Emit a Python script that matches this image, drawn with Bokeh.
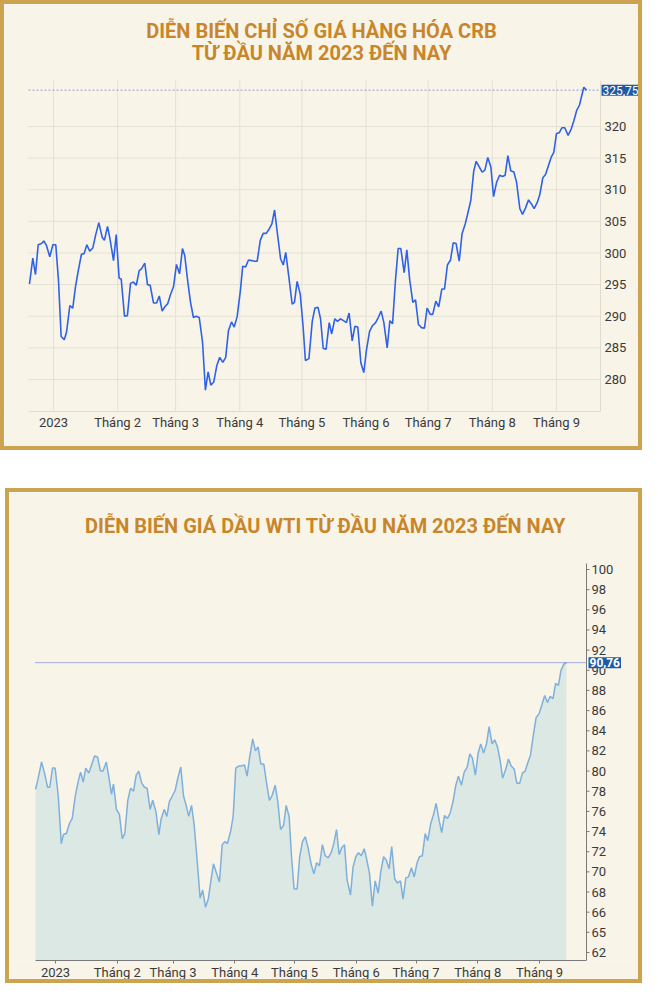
from bokeh.plotting import figure
from bokeh.models import FixedTicker, Spacer
from bokeh.layouts import column, row
from bokeh.core.properties import value
from bokeh.embed import file_html
from bokeh.resources import INLINE

# ---------------- data ----------------
# x = days since 2023-01-01
crb_day = [-11.6,-10.0,-8.7,-7.4,-5.8,-4.7,-3.4,-1.8,-0.3,1.1,
           2.4,3.7,5.2,6.3,7.9,9.3,10.6,11.9,13.5,14.8,
           16.1,17.5,19.0,20.4,21.9,23.5,24.6,26.1,27.2,29.0,
           30.3,31.7,32.7,34.3,35.7,37.2,38.6,40.0,41.4,42.5,
           44.1,45.4,46.7,48.3,49.8,51.1,52.5,53.8,55.2,56.5,
           58.0,59.4,60.9,62.3,63.4,64.9,66.2,67.6,68.9,70.4,
           72.0,73.4,74.7,76.0,77.4,78.9,80.3,81.8,83.2,84.5,
           86.0,87.3,88.7,90.3,91.4,92.8,94.2,95.8,97.2,98.4,
           99.9,101.3,102.8,104.2,105.5,106.8,108.2,109.7,111.0,112.2,
           113.7,115.3,116.4,117.7,119.2,120.6,121.7,123.4,125.0,126.3,
           127.8,129.0,130.3,131.7,133.2,134.4,135.9,137.2,138.6,140.1,
           141.5,142.8,144.3,145.6,147.0,148.5,149.9,151.2,152.7,154.1,
           155.6,156.9,158.3,159.6,161.2,162.5,163.8,165.2,166.5,167.8,
           169.4,170.7,172.1,173.6,174.9,176.3,177.8,179.2,180.5,182.0,
           183.2,184.7,186.1,187.6,188.9,190.3,191.8,193.1,194.5,196.0,
           197.4,198.9,200.1,201.6,203.0,204.2,205.7,207.1,208.4,209.8,
           211.3,212.6,214.0,215.5,216.9,218.2,219.5,220.9,222.4,223.7,
           225.3,226.6,228.0,229.5,230.8,232.2,233.7,234.9,236.4,237.7,
           239.1,240.4,241.7,243.0,244.3,245.6,247.0,248.6,250.1,251.4,
           252.7,254.1,256.2,257.5]
crb_value = [295.1,299.2,296.6,301.3,301.5,301.9,301.2,299.4,301.3,301.3,
             295.7,286.8,286.3,287.5,291.7,291.3,294.6,297.1,299.8,299.9,
             301.3,300.3,300.8,302.9,304.8,302.5,302.0,304.2,302.4,298.8,
             302.9,296.0,295.9,290.0,290.1,295.2,295.4,294.9,297.2,297.5,
             298.4,295.0,294.9,292.1,292.1,293.2,290.8,291.5,292.0,293.4,
             294.7,298.2,296.7,300.7,299.6,295.4,292.2,289.8,290.0,289.8,
             285.9,278.3,281.2,279.1,279.6,282.2,283.5,282.7,283.5,287.7,
             289.1,288.3,289.9,294.1,297.9,297.8,298.9,298.8,298.7,298.7,
             302.0,303.1,303.1,303.8,304.6,306.8,303.0,299.1,298.1,300.1,
             296.2,291.9,292.2,295.5,293.5,288.3,283.0,283.3,289.2,291.3,
             291.4,289.6,284.9,284.8,289.0,287.2,289.6,289.2,289.6,289.3,
             289.0,290.5,286.1,288.4,288.3,282.6,281.1,284.7,287.6,288.5,
             289.0,289.8,290.8,289.0,285.0,289.3,288.8,295.7,300.7,300.7,
             296.9,300.5,295.7,292.2,292.6,288.7,288.2,288.1,291.3,290.3,
             290.3,292.4,291.5,294.3,294.3,298.1,298.9,301.6,301.5,298.7,
             303.1,304.6,306.2,308.3,312.9,314.5,313.6,312.8,313.1,315.1,
             313.6,308.9,311.1,312.3,312.1,312.3,315.4,313.0,312.8,311.2,
             307.0,306.1,307.1,308.4,307.8,307.0,308.0,309.2,311.9,312.4,
             313.8,315.1,315.9,318.9,319.0,319.8,319.8,318.6,319.6,320.9,
             322.5,323.4,326.2,325.75]

wti_day = [-10.0,-8.9,-7.0,-5.5,-4.0,-2.9,-1.5,-0.2,1.4,2.9,
           4.0,5.5,7.0,8.4,9.9,11.2,12.6,13.9,15.2,16.7,
           18.1,19.6,21.1,22.6,23.9,25.5,26.8,28.1,29.1,30.6,
           32.1,33.5,34.8,36.3,37.7,39.2,40.5,41.8,43.3,44.7,
           46.0,47.5,48.8,50.4,51.9,53.1,54.6,55.9,57.2,58.6,
           60.1,61.4,62.9,64.3,65.6,66.9,68.3,69.6,71.1,72.6,
           73.9,75.3,76.7,78.0,79.3,80.8,82.3,83.7,85.0,86.3,
           87.9,89.2,90.5,91.9,93.2,94.9,96.2,97.5,99.0,100.4,
           101.7,103.1,104.6,105.9,107.4,108.8,110.3,111.6,113.0,114.5,
           115.8,117.3,118.5,119.8,121.3,122.6,124.0,125.4,126.8,128.3,
           129.7,131.1,132.5,134.0,135.4,136.9,138.4,139.7,141.1,142.4,
           143.7,145.1,146.4,148.1,149.4,150.8,152.1,153.5,155.0,156.3,
           157.6,159.1,160.5,162.0,163.3,164.7,166.0,167.5,168.8,170.3,
           171.7,173.2,174.5,175.9,177.2,178.7,180.1,181.4,182.7,184.2,
           185.6,186.9,188.4,189.8,191.1,192.6,193.9,195.3,196.8,198.1,
           199.6,201.0,202.3,203.8,205.2,206.7,208.0,209.3,210.8,212.2,
           213.5,214.9,216.4,217.7,219.2,220.5,221.9,223.2,224.5,226.1,
           227.4,228.8,230.3,231.6,233.1,234.4,235.8,237.1,238.5,240.0,
           241.3,242.8,244.1,245.6,247.0,248.3,249.8,251.1,252.5,253.8,
           255.2,256.5]
wti_value = [78.2,79.1,80.9,79.8,78.4,78.4,80.3,80.3,77.5,72.8,
             73.7,73.8,74.8,75.3,77.5,78.8,79.9,78.9,80.3,79.8,
             80.6,81.5,81.4,80.0,80.0,80.9,79.4,77.7,78.7,76.2,
             75.7,73.3,73.8,77.1,78.3,78.0,79.6,80.0,78.8,78.4,
             78.3,76.2,77.1,76.0,73.7,75.3,76.2,75.5,77.0,77.5,
             78.1,79.3,80.4,77.5,76.6,75.5,76.6,74.7,71.2,67.4,
             68.2,66.5,67.3,69.1,70.8,69.9,69.0,72.7,73.0,72.8,
             74.0,75.5,80.3,80.5,80.5,80.6,79.5,81.4,83.2,82.0,
             82.4,80.7,80.7,78.9,77.1,77.6,78.6,77.0,74.2,74.6,
             76.6,75.5,71.5,68.3,68.3,71.5,73.0,73.5,72.4,70.8,
             69.8,70.9,70.6,72.7,71.6,71.4,71.9,72.8,74.2,71.7,
             72.4,72.7,69.2,67.7,70.5,71.5,71.9,71.6,72.3,71.2,
             69.9,66.6,69.1,67.9,70.0,71.5,71.2,70.3,72.5,69.3,
             68.9,69.1,67.3,69.4,69.5,70.4,69.5,70.8,71.5,71.6,
             73.8,73.1,74.8,75.7,76.8,75.1,73.9,75.6,75.3,75.8,
             77.0,78.6,79.5,78.6,79.9,80.4,81.7,81.3,79.6,81.8,
             82.7,81.8,82.7,84.4,82.7,83.1,82.4,81.1,79.3,80.2,
             81.2,80.5,80.2,78.8,78.8,79.8,80.0,80.8,81.6,83.7,
             85.3,85.7,86.5,87.5,86.8,87.4,87.2,88.7,88.5,90.0,
             90.6,90.76]

month_ticks = [0, 31, 59, 90, 120, 151, 181, 212, 243]
month_labels = ["2023", "Tháng 2", "Tháng 3", "Tháng 4", "Tháng 5",
                "Tháng 6", "Tháng 7", "Tháng 8", "Tháng 9"]
crb_ticks = [280, 285, 290, 295, 300, 305, 310, 315, 320]
crb_tick_labels = ["280", "285", "290", "295", "300", "305", "310", "315", "320"]
wti_ticks = [62, 64, 66, 68, 70, 72, 74, 76, 78, 80, 82, 84, 86, 88, 90,
             92, 94, 96, 98, 100]
wti_tick_labels = ["62", "65", "66", "68", "70", "72", "74", "76", "78", "80",
                   "82", "84", "86", "88", "90", "92", "94", "96", "98", "100"]
crb_last = 325.75
wti_last = 90.76
crb_title = ["DIỄN BIẾN CHỈ SỐ GIÁ HÀNG HÓA CRB", "TỪ ĐẦU NĂM 2023 ĐẾN NAY"]
wti_title = "DIỄN BIẾN GIÁ DẦU WTI TỪ ĐẦU NĂM 2023 ĐẾN NAY"

# ---------------- style / layout ----------------
BG = "#f8f4e8"
GOLD = "#cca34e"
TITLE_C = "#c8862b"
TXT = "#3a3a3a"
FONT = "Roboto"
BOX = "#1c5ca6"
GRID = "#e6e1d5"


def lin(p0, v0, p1, v1):
    k = (v1 - v0) / (p1 - p0)
    return lambda p: v0 + (p - p0) * k


def fmt(v):
    return f"{v:.2f}".replace(".", ",")


# ---------------- CRB chart ----------------
# pixel calibration of the page (layout only)
tx = lin(53, 0, 556, 243)
ty = lin(126, 320, 379, 280)
cx0, cx1 = tx(4), tx(638)
cy0, cy1 = ty(411), ty(4)
c_left, c_axis = tx(28), tx(600)
c_top = ty(80)

p1 = figure(width=642, height=450, x_range=(cx0, cx1), y_range=(cy0, cy1),
            output_backend="svg", toolbar_location=None, y_axis_location=None,
            min_border_left=0, min_border_right=8, min_border_top=0,
            min_border_bottom=43)
p1.styles = {"border": f"4px solid {GOLD}"}
p1.background_fill_color = BG
p1.border_fill_color = BG
p1.outline_line_color = None
p1.grid.visible = False

p1.xaxis.ticker = FixedTicker(ticks=month_ticks)
p1.xaxis.major_label_overrides = dict(zip(month_ticks, month_labels))
p1.xaxis.bounds = (c_left, c_axis)
p1.xaxis.axis_line_color = "#e0dbcf"
p1.xaxis.major_tick_line_color = None
p1.xaxis.major_tick_in = 0
p1.xaxis.major_tick_out = 0
p1.xaxis.minor_tick_line_color = None
p1.xaxis.major_label_text_font = FONT
p1.xaxis.major_label_text_color = TXT
p1.xaxis.major_label_text_font_size = "13px"
p1.xaxis.major_label_standoff = 3

nm, nt = len(month_ticks), len(crb_ticks)
p1.segment(x0=month_ticks, y0=[cy0] * nm, x1=month_ticks, y1=[c_top] * nm,
           line_color=GRID, line_width=1)
p1.segment(x0=[c_left] * nt, y0=crb_ticks, x1=[c_axis] * nt, y1=crb_ticks,
           line_color=GRID, line_width=1)
p1.segment(x0=[c_axis], y0=[cy0], x1=[c_axis], y1=[c_top],
           line_color="#e0dbcf", line_width=1)
p1.segment(x0=[c_left], y0=[crb_last], x1=[c_axis], y1=[crb_last],
           line_color="#8e9fe0", line_dash="2 2", line_width=1)
p1.line(crb_day, crb_value, line_color="#2f62e6", line_width=1.6)
p1.text(x=[c_axis] * nt, y=crb_ticks, text=crb_tick_labels, x_offset=4,
        text_align="left", text_baseline="middle", text_font=value(FONT),
        text_font_size="13px", text_color=TXT)
p1.text(x=[c_axis], y=[crb_last], text=[fmt(crb_last)], x_offset=1,
        text_align="left", text_baseline="middle", text_font=value(FONT),
        text_font_size="12px", text_color="white",
        background_fill_color=BOX, padding=1)
p1.text(x=[tx(321)] * 2, y=[ty(30), ty(52)], text=crb_title,
        text_align="center", text_baseline="middle", text_font=value(FONT),
        text_font_style="bold", text_font_size="20px", text_color=TITLE_C)

# ---------------- WTI chart ----------------
bx = lin(55, 0, 539, 243)
by = lin(569, 100, 952, 62)
wx0, wx1 = bx(9), bx(638)
wy0, wy1 = by(960), by(492)
w_left, w_axis = bx(35), bx(586)
w_top = by(563)

p2 = figure(width=637, height=495, x_range=(wx0, wx1), y_range=(wy0, wy1),
            output_backend="svg", toolbar_location=None, y_axis_location=None,
            min_border_left=0, min_border_right=8, min_border_top=0,
            min_border_bottom=27)
p2.styles = {"border": f"4px solid {GOLD}"}
p2.background_fill_color = BG
p2.border_fill_color = BG
p2.outline_line_color = None
p2.grid.visible = False

p2.xaxis.ticker = FixedTicker(ticks=month_ticks)
p2.xaxis.major_label_overrides = dict(zip(month_ticks, month_labels))
p2.xaxis.bounds = (w_left, w_axis)
p2.xaxis.axis_line_color = "#7a7a7a"
p2.xaxis.major_tick_line_color = "#7a7a7a"
p2.xaxis.major_tick_in = 0
p2.xaxis.major_tick_out = 3
p2.xaxis.minor_tick_line_color = None
p2.xaxis.major_label_text_font = FONT
p2.xaxis.major_label_text_color = TXT
p2.xaxis.major_label_text_font_size = "13px"
p2.xaxis.major_label_standoff = 1

nw = len(wti_ticks)
p2.varea(x=wti_day, y1=[wy0] * len(wti_day), y2=wti_value, fill_color="#dce8e4")
p2.line(wti_day, wti_value, line_color="#7fb0dc", line_width=1.5)
p2.segment(x0=[w_left], y0=[wti_last], x1=[w_axis], y1=[wti_last],
           line_color="#4f63d8", line_dash="1 1", line_width=1)
p2.segment(x0=[w_axis], y0=[wy0], x1=[w_axis], y1=[w_top],
           line_color="#7a7a7a", line_width=1)
p2.ray(x=[w_axis] * nw, y=wti_ticks, length=3, length_units="screen", angle=0,
       line_color="#7a7a7a", line_width=1)
p2.text(x=[w_axis] * nw, y=wti_ticks, text=wti_tick_labels, x_offset=5,
        text_align="left", text_baseline="middle", text_font=value(FONT),
        text_font_size="13px", text_color=TXT)
p2.text(x=[w_axis], y=[wti_last], text=[fmt(wti_last)], x_offset=2,
        text_align="left", text_baseline="middle", text_font=value(FONT),
        text_font_size="12px", text_font_style="bold", text_color="white",
        background_fill_color=BOX, padding=1)
p2.text(x=[bx(325)], y=[by(525)], text=[wti_title],
        text_align="center", text_baseline="middle", text_font=value(FONT),
        text_font_style="bold", text_font_size="20px", text_color=TITLE_C)

layout = column(p1, Spacer(height=38), row(Spacer(width=5), p2))
open("out.html", "w").write(file_html(layout, INLINE))
